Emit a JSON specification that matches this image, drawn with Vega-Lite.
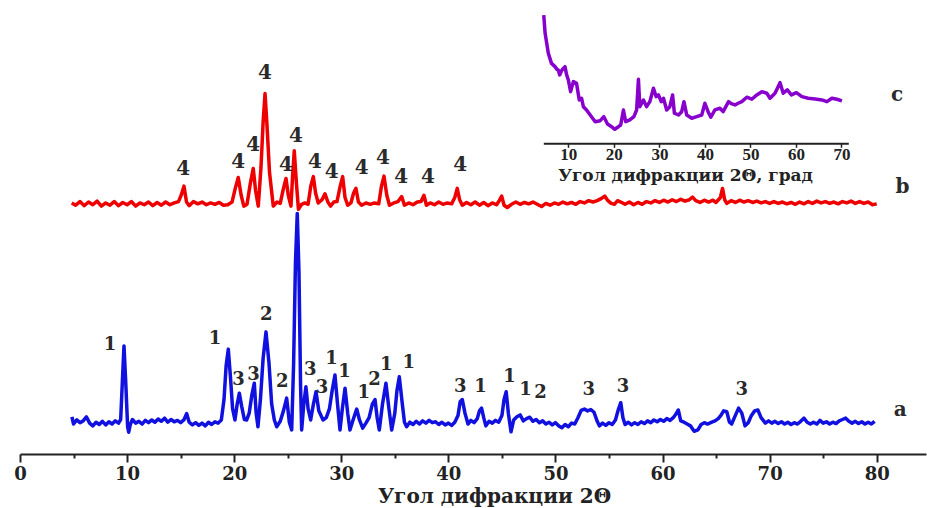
{
  "$schema": "https://vega.github.io/schema/vega-lite/v6.json",
  "width": 906,
  "height": 454,
  "autosize": "none",
  "padding": {"left": 20, "top": 0, "right": 1, "bottom": 54},
  "background": "white",
  "config": {"view": {"stroke": null}},
  "datasets": {
    "a": [
      {"x":4.85,"y":8.2},{"x":5.0,"y":6.6},{"x":5.3,"y":7.5},{"x":5.6,"y":6.9},{"x":5.9,"y":7.3},{"x":6.2,"y":8.2},{"x":6.5,"y":6.8},{"x":6.8,"y":6.2},{"x":7.1,"y":7.0},{"x":7.4,"y":6.5},{"x":7.7,"y":7.2},{"x":8.0,"y":6.4},{"x":8.3,"y":7.1},{"x":8.6,"y":6.6},{"x":8.9,"y":7.3},{"x":9.2,"y":6.8},{"x":9.4,"y":7.6},{"x":9.55,"y":15.5},{"x":9.71,"y":23.8},{"x":9.87,"y":16.0},{"x":10.05,"y":6.0},{"x":10.15,"y":4.8},{"x":10.3,"y":6.5},{"x":10.5,"y":7.6},{"x":10.8,"y":6.8},{"x":11.1,"y":7.2},{"x":11.4,"y":6.6},{"x":11.7,"y":7.4},{"x":12.0,"y":6.9},{"x":12.3,"y":7.5},{"x":12.6,"y":7.0},{"x":12.9,"y":7.7},{"x":13.2,"y":7.2},{"x":13.5,"y":7.9},{"x":13.8,"y":7.0},{"x":14.1,"y":7.6},{"x":14.4,"y":7.1},{"x":14.7,"y":7.4},{"x":15.0,"y":6.9},{"x":15.3,"y":7.5},{"x":15.56,"y":8.9},{"x":15.8,"y":7.0},{"x":16.1,"y":6.4},{"x":16.4,"y":6.9},{"x":16.7,"y":6.3},{"x":17.0,"y":6.8},{"x":17.3,"y":6.2},{"x":17.6,"y":7.0},{"x":17.9,"y":6.5},{"x":18.2,"y":7.1},{"x":18.5,"y":6.8},{"x":18.8,"y":7.5},{"x":19.05,"y":12},{"x":19.25,"y":19.5},{"x":19.45,"y":23.1},{"x":19.65,"y":17},{"x":19.85,"y":10},{"x":20.07,"y":7.5},{"x":20.28,"y":11},{"x":20.48,"y":13.4},{"x":20.7,"y":10.5},{"x":20.95,"y":7.6},{"x":21.17,"y":7.5},{"x":21.4,"y":9},{"x":21.65,"y":13},{"x":21.88,"y":15.6},{"x":22.05,"y":9},{"x":22.22,"y":6.0},{"x":22.45,"y":12},{"x":22.7,"y":21},{"x":22.97,"y":26.9},{"x":23.25,"y":20},{"x":23.5,"y":11},{"x":23.75,"y":7.5},{"x":23.97,"y":6.0},{"x":24.3,"y":7.2},{"x":24.6,"y":9.5},{"x":24.9,"y":12.3},{"x":25.15,"y":7},{"x":25.37,"y":5.3},{"x":25.55,"y":20},{"x":25.72,"y":42},{"x":25.89,"y":53.0},{"x":26.05,"y":40},{"x":26.2,"y":15},{"x":26.3,"y":5.3},{"x":26.5,"y":11},{"x":26.7,"y":14.8},{"x":26.9,"y":10},{"x":27.14,"y":7.5},{"x":27.4,"y":11},{"x":27.64,"y":13.7},{"x":27.9,"y":9.5},{"x":28.3,"y":7.5},{"x":28.6,"y":8},{"x":28.9,"y":10},{"x":29.15,"y":14},{"x":29.41,"y":17.4},{"x":29.65,"y":11},{"x":29.88,"y":5.3},{"x":30.1,"y":10},{"x":30.35,"y":14.5},{"x":30.6,"y":9},{"x":30.81,"y":5.3},{"x":31.1,"y":7.5},{"x":31.44,"y":9.9},{"x":31.7,"y":7.5},{"x":32.0,"y":5.7},{"x":32.3,"y":6.8},{"x":32.6,"y":8},{"x":32.9,"y":11},{"x":33.15,"y":12.0},{"x":33.35,"y":8},{"x":33.55,"y":5.3},{"x":33.85,"y":11},{"x":34.17,"y":15.6},{"x":34.45,"y":10},{"x":34.71,"y":5.3},{"x":35.0,"y":9},{"x":35.2,"y":14},{"x":35.42,"y":17.0},{"x":35.7,"y":11},{"x":35.9,"y":7},{"x":36.1,"y":6.0},{"x":36.4,"y":7.0},{"x":36.7,"y":6.5},{"x":37.0,"y":7.2},{"x":37.3,"y":6.6},{"x":37.6,"y":7.3},{"x":37.9,"y":6.8},{"x":38.2,"y":7.4},{"x":38.5,"y":6.9},{"x":38.8,"y":7.1},{"x":39.1,"y":6.5},{"x":39.4,"y":7.0},{"x":39.7,"y":6.4},{"x":40.0,"y":6.8},{"x":40.3,"y":6.3},{"x":40.6,"y":7.0},{"x":40.9,"y":8.5},{"x":41.1,"y":11.5},{"x":41.3,"y":12.0},{"x":41.55,"y":9},{"x":41.83,"y":6.6},{"x":42.1,"y":7.4},{"x":42.4,"y":6.9},{"x":42.7,"y":7.8},{"x":42.9,"y":9.5},{"x":43.1,"y":10.1},{"x":43.3,"y":8},{"x":43.5,"y":6.2},{"x":43.8,"y":7.2},{"x":44.1,"y":6.8},{"x":44.4,"y":7.4},{"x":44.7,"y":7.0},{"x":45.0,"y":8.5},{"x":45.2,"y":12},{"x":45.4,"y":13.7},{"x":45.6,"y":9},{"x":45.85,"y":4.9},{"x":46.1,"y":7.5},{"x":46.4,"y":8.2},{"x":46.7,"y":8.6},{"x":47.0,"y":7.3},{"x":47.3,"y":7.8},{"x":47.6,"y":8.1},{"x":47.9,"y":7.2},{"x":48.2,"y":7.6},{"x":48.5,"y":6.9},{"x":48.8,"y":7.3},{"x":49.1,"y":6.6},{"x":49.4,"y":7.0},{"x":49.7,"y":6.4},{"x":50.0,"y":6.9},{"x":50.3,"y":6.2},{"x":50.6,"y":5.8},{"x":50.9,"y":6.5},{"x":51.2,"y":6.0},{"x":51.5,"y":6.8},{"x":51.8,"y":6.6},{"x":52.1,"y":8.0},{"x":52.4,"y":9.6},{"x":52.7,"y":9.9},{"x":53.0,"y":9.5},{"x":53.3,"y":9.8},{"x":53.6,"y":9.2},{"x":53.9,"y":7.2},{"x":54.1,"y":6.2},{"x":54.4,"y":6.8},{"x":54.7,"y":6.3},{"x":55.0,"y":6.9},{"x":55.3,"y":6.5},{"x":55.6,"y":7.5},{"x":55.9,"y":10},{"x":56.1,"y":11.3},{"x":56.3,"y":8},{"x":56.5,"y":6.5},{"x":56.8,"y":7.0},{"x":57.1,"y":6.4},{"x":57.4,"y":6.9},{"x":57.7,"y":6.5},{"x":58.0,"y":7.1},{"x":58.3,"y":6.7},{"x":58.6,"y":7.3},{"x":58.9,"y":6.9},{"x":59.2,"y":7.5},{"x":59.5,"y":7.1},{"x":59.8,"y":7.6},{"x":60.1,"y":7.2},{"x":60.4,"y":7.8},{"x":60.7,"y":7.4},{"x":61.0,"y":8.0},{"x":61.25,"y":8.8},{"x":61.47,"y":9.7},{"x":61.7,"y":7.3},{"x":62.0,"y":7.0},{"x":62.3,"y":6.6},{"x":62.6,"y":6.2},{"x":62.95,"y":5.0},{"x":63.3,"y":5.3},{"x":63.6,"y":6.5},{"x":63.9,"y":6.9},{"x":64.2,"y":6.6},{"x":64.6,"y":7.0},{"x":64.9,"y":7.3},{"x":65.2,"y":7.8},{"x":65.45,"y":8.5},{"x":65.7,"y":9.5},{"x":66.0,"y":9.3},{"x":66.25,"y":7.0},{"x":66.45,"y":6.6},{"x":66.8,"y":8.5},{"x":67.1,"y":10.1},{"x":67.4,"y":9.0},{"x":67.7,"y":6.2},{"x":68.0,"y":6.9},{"x":68.3,"y":8.5},{"x":68.6,"y":9.5},{"x":68.9,"y":9.7},{"x":69.2,"y":8.0},{"x":69.6,"y":6.8},{"x":69.9,"y":7.3},{"x":70.2,"y":6.8},{"x":70.5,"y":7.2},{"x":70.8,"y":6.7},{"x":71.1,"y":7.1},{"x":71.4,"y":6.6},{"x":71.7,"y":7.0},{"x":72.0,"y":6.5},{"x":72.3,"y":6.9},{"x":72.6,"y":6.6},{"x":72.9,"y":7.2},{"x":73.2,"y":7.9},{"x":73.5,"y":7.0},{"x":73.8,"y":6.6},{"x":74.1,"y":7.0},{"x":74.4,"y":6.6},{"x":74.7,"y":7.4},{"x":75.0,"y":6.8},{"x":75.3,"y":7.1},{"x":75.6,"y":6.6},{"x":75.9,"y":7.0},{"x":76.2,"y":6.7},{"x":76.5,"y":7.3},{"x":76.8,"y":7.6},{"x":77.1,"y":7.9},{"x":77.4,"y":7.2},{"x":77.7,"y":6.8},{"x":78.0,"y":7.2},{"x":78.3,"y":6.7},{"x":78.6,"y":7.1},{"x":78.9,"y":6.6},{"x":79.2,"y":7.0},{"x":79.5,"y":6.6},{"x":79.8,"y":7.2}
    ],
    "b": [
      {"x":4.83,"y":55.3},{"x":5.2,"y":54.8},{"x":5.6,"y":55.6},{"x":6.0,"y":54.7},{"x":6.4,"y":55.5},{"x":6.8,"y":54.9},{"x":7.2,"y":55.7},{"x":7.6,"y":54.6},{"x":8.0,"y":55.3},{"x":8.4,"y":54.8},{"x":8.8,"y":55.6},{"x":9.2,"y":54.7},{"x":9.6,"y":55.4},{"x":10.0,"y":54.9},{"x":10.4,"y":55.6},{"x":10.8,"y":54.6},{"x":11.2,"y":55.3},{"x":11.6,"y":54.9},{"x":12.0,"y":55.5},{"x":12.4,"y":54.7},{"x":12.8,"y":55.4},{"x":13.2,"y":54.8},{"x":13.6,"y":55.5},{"x":14.0,"y":54.9},{"x":14.4,"y":55.3},{"x":14.8,"y":55.6},{"x":15.05,"y":57.0},{"x":15.31,"y":59.0},{"x":15.55,"y":55.5},{"x":15.8,"y":54.7},{"x":16.2,"y":55.6},{"x":16.6,"y":55.1},{"x":17.0,"y":55.5},{"x":17.4,"y":54.9},{"x":17.8,"y":55.3},{"x":18.2,"y":55.0},{"x":18.6,"y":55.4},{"x":19.0,"y":54.8},{"x":19.4,"y":54.9},{"x":19.8,"y":55.5},{"x":20.1,"y":58.5},{"x":20.38,"y":60.9},{"x":20.65,"y":57},{"x":20.9,"y":54.6},{"x":21.2,"y":55.0},{"x":21.5,"y":59.5},{"x":21.78,"y":62.9},{"x":22.0,"y":58},{"x":22.25,"y":54.6},{"x":22.5,"y":63},{"x":22.7,"y":73},{"x":22.88,"y":79.4},{"x":23.05,"y":73},{"x":23.3,"y":62},{"x":23.65,"y":54.6},{"x":24.0,"y":55.5},{"x":24.3,"y":55.2},{"x":24.6,"y":58.5},{"x":24.84,"y":60.7},{"x":25.05,"y":57},{"x":25.3,"y":54.6},{"x":25.45,"y":61},{"x":25.61,"y":66.8},{"x":25.8,"y":60},{"x":26.0,"y":53.9},{"x":26.3,"y":55.0},{"x":26.6,"y":55.3},{"x":26.9,"y":55.0},{"x":27.15,"y":59},{"x":27.39,"y":61.1},{"x":27.6,"y":57.5},{"x":27.85,"y":55.3},{"x":28.2,"y":56.0},{"x":28.48,"y":57.3},{"x":28.75,"y":55.5},{"x":29.0,"y":54.6},{"x":29.3,"y":55.5},{"x":29.6,"y":55.6},{"x":29.9,"y":59},{"x":30.13,"y":61.1},{"x":30.35,"y":56.5},{"x":30.6,"y":54.8},{"x":30.9,"y":55.3},{"x":31.15,"y":57.5},{"x":31.37,"y":58.5},{"x":31.6,"y":55.5},{"x":31.9,"y":54.8},{"x":32.3,"y":55.3},{"x":32.7,"y":55.0},{"x":33.1,"y":55.3},{"x":33.5,"y":55.1},{"x":33.75,"y":59},{"x":33.99,"y":61.2},{"x":34.25,"y":57},{"x":34.5,"y":54.8},{"x":34.9,"y":55.3},{"x":35.3,"y":55.6},{"x":35.64,"y":56.7},{"x":35.9,"y":54.8},{"x":36.3,"y":55.3},{"x":36.7,"y":54.9},{"x":37.1,"y":55.5},{"x":37.45,"y":55.6},{"x":37.72,"y":57.0},{"x":37.95,"y":54.8},{"x":38.3,"y":55.3},{"x":38.7,"y":54.9},{"x":39.1,"y":55.5},{"x":39.5,"y":55.0},{"x":39.9,"y":55.3},{"x":40.3,"y":55.1},{"x":40.6,"y":56.5},{"x":40.83,"y":58.5},{"x":41.05,"y":56.0},{"x":41.3,"y":54.8},{"x":41.7,"y":55.4},{"x":42.1,"y":54.9},{"x":42.5,"y":55.5},{"x":42.9,"y":54.8},{"x":43.3,"y":55.4},{"x":43.7,"y":54.7},{"x":44.1,"y":55.3},{"x":44.5,"y":54.9},{"x":44.75,"y":55.8},{"x":44.98,"y":56.8},{"x":45.2,"y":54.8},{"x":45.5,"y":54.3},{"x":45.9,"y":55.0},{"x":46.3,"y":55.5},{"x":46.7,"y":55.0},{"x":47.1,"y":55.4},{"x":47.5,"y":55.1},{"x":47.9,"y":55.5},{"x":48.3,"y":55.0},{"x":48.7,"y":54.5},{"x":49.1,"y":55.2},{"x":49.5,"y":54.8},{"x":49.9,"y":55.3},{"x":50.3,"y":55.0},{"x":50.7,"y":55.5},{"x":51.1,"y":55.1},{"x":51.5,"y":55.4},{"x":51.9,"y":55.0},{"x":52.3,"y":55.6},{"x":52.7,"y":55.3},{"x":53.1,"y":55.8},{"x":53.5,"y":55.5},{"x":53.9,"y":55.8},{"x":54.3,"y":56.3},{"x":54.6,"y":56.8},{"x":54.9,"y":55.8},{"x":55.2,"y":55.2},{"x":55.5,"y":55.0},{"x":55.8,"y":55.8},{"x":56.1,"y":55.5},{"x":56.5,"y":55.0},{"x":56.9,"y":55.5},{"x":57.3,"y":54.9},{"x":57.7,"y":55.4},{"x":58.1,"y":55.0},{"x":58.5,"y":55.6},{"x":58.9,"y":55.3},{"x":59.3,"y":55.8},{"x":59.7,"y":55.4},{"x":60.1,"y":55.9},{"x":60.5,"y":55.5},{"x":60.9,"y":56.0},{"x":61.3,"y":55.6},{"x":61.7,"y":56.1},{"x":62.1,"y":55.7},{"x":62.5,"y":56.0},{"x":62.8,"y":56.6},{"x":63.1,"y":55.8},{"x":63.5,"y":55.4},{"x":63.9,"y":55.9},{"x":64.3,"y":55.5},{"x":64.7,"y":55.9},{"x":65.0,"y":55.4},{"x":65.4,"y":56.5},{"x":65.6,"y":58.5},{"x":65.8,"y":56},{"x":66.0,"y":55.2},{"x":66.4,"y":55.8},{"x":66.8,"y":55.4},{"x":67.2,"y":55.9},{"x":67.6,"y":55.5},{"x":68.0,"y":55.8},{"x":68.4,"y":55.4},{"x":68.8,"y":55.7},{"x":69.2,"y":55.3},{"x":69.6,"y":55.6},{"x":70.0,"y":55.2},{"x":70.4,"y":55.6},{"x":70.8,"y":55.2},{"x":71.2,"y":55.5},{"x":71.6,"y":55.1},{"x":72.0,"y":55.4},{"x":72.4,"y":55.0},{"x":72.8,"y":55.5},{"x":73.2,"y":55.1},{"x":73.6,"y":55.6},{"x":74.0,"y":55.2},{"x":74.4,"y":55.7},{"x":74.8,"y":55.3},{"x":75.2,"y":55.6},{"x":75.6,"y":55.2},{"x":76.0,"y":55.5},{"x":76.4,"y":55.1},{"x":76.8,"y":55.6},{"x":77.2,"y":55.3},{"x":77.6,"y":55.7},{"x":78.0,"y":55.2},{"x":78.4,"y":55.6},{"x":78.8,"y":55.2},{"x":79.2,"y":55.5},{"x":79.6,"y":54.9},{"x":80.0,"y":55.1}
    ],
    "c": [
      {"x":4.6,"y":89.5},{"x":4.9,"y":76.7},{"x":5.6,"y":62.7},{"x":6.3,"y":55.7},{"x":7.07,"y":53.4},{"x":7.5,"y":51.5},{"x":7.8,"y":51.0},{"x":8.1,"y":47.6},{"x":8.5,"y":50.5},{"x":8.9,"y":52.2},{"x":9.27,"y":53.4},{"x":9.6,"y":48},{"x":10.0,"y":44.1},{"x":10.5,"y":35.9},{"x":11.1,"y":42.9},{"x":11.8,"y":41.7},{"x":12.4,"y":30.1},{"x":12.9,"y":31.3},{"x":13.3,"y":25.4},{"x":14.0,"y":23.1},{"x":14.8,"y":19.6},{"x":15.9,"y":14.9},{"x":17.0,"y":15.6},{"x":17.8,"y":18.4},{"x":18.6,"y":13.3},{"x":19.5,"y":11.4},{"x":20.2,"y":9.6},{"x":21.0,"y":11.4},{"x":21.5,"y":12.6},{"x":22.1,"y":23.1},{"x":22.6,"y":14.9},{"x":23.5,"y":16.1},{"x":24.4,"y":18.4},{"x":25.0,"y":23.1},{"x":25.4,"y":44.5},{"x":25.7,"y":25.4},{"x":26.5,"y":30.1},{"x":27.2,"y":25.4},{"x":27.9,"y":28.9},{"x":28.7,"y":38.3},{"x":29.3,"y":32.4},{"x":29.8,"y":33.6},{"x":30.4,"y":28.9},{"x":30.9,"y":31.3},{"x":31.6,"y":23.1},{"x":32.3,"y":25.4},{"x":32.9,"y":33.6},{"x":33.3,"y":20.8},{"x":34.2,"y":19.6},{"x":34.9,"y":21.9},{"x":35.4,"y":28.9},{"x":36.0,"y":19.6},{"x":37.1,"y":17.3},{"x":38.2,"y":18.4},{"x":39.3,"y":19.6},{"x":40.0,"y":27.8},{"x":40.7,"y":21.9},{"x":41.3,"y":18.0},{"x":42.2,"y":23.1},{"x":43.3,"y":24.3},{"x":44.0,"y":21.9},{"x":45.2,"y":28.9},{"x":45.8,"y":27.5},{"x":46.6,"y":26.6},{"x":47.3,"y":27.8},{"x":48.1,"y":28.9},{"x":49.2,"y":32.0},{"x":50.3,"y":30.6},{"x":51.4,"y":33.6},{"x":52.5,"y":35.9},{"x":53.6,"y":34.8},{"x":54.3,"y":31.3},{"x":55.4,"y":34.8},{"x":56.5,"y":42.2},{"x":57.2,"y":34.8},{"x":58.1,"y":37.1},{"x":59.0,"y":33.6},{"x":60.1,"y":35.2},{"x":61.3,"y":32.4},{"x":62.7,"y":31.3},{"x":64.2,"y":30.8},{"x":65.7,"y":30.1},{"x":66.8,"y":28.9},{"x":67.9,"y":31.3},{"x":69.0,"y":30.6},{"x":70.1,"y":29.4}
    ],
    "labelsA": [
      {"x":8.4,"y":24.0,"t":"1"},{"x":18.2,"y":25.3,"t":"1"},{"x":20.4,"y":16.3,"t":"3"},{"x":21.8,"y":17.4,"t":"3"},{"x":23.0,"y":30.6,"t":"2"},{"x":24.5,"y":15.9,"t":"2"},{"x":27.1,"y":18.5,"t":"3"},{"x":28.2,"y":14.5,"t":"3"},{"x":29.1,"y":20.9,"t":"1"},{"x":30.3,"y":18.1,"t":"1"},{"x":32.1,"y":13.4,"t":"1"},{"x":33.1,"y":16.3,"t":"2"},{"x":34.2,"y":19.6,"t":"1"},{"x":36.3,"y":20.1,"t":"1"},{"x":41.1,"y":14.8,"t":"3"},{"x":43.0,"y":14.8,"t":"1"},{"x":45.7,"y":17.0,"t":"1"},{"x":47.2,"y":14.1,"t":"1"},{"x":48.6,"y":13.4,"t":"2"},{"x":53.1,"y":14.1,"t":"3"},{"x":56.3,"y":14.8,"t":"3"},{"x":67.4,"y":14.1,"t":"3"}
    ],
    "labelsB": [
      {"x":15.25,"y":62.7,"t":"4"},{"x":20.38,"y":64.4,"t":"4"},{"x":21.78,"y":68.1,"t":"4"},{"x":22.88,"y":84.0,"t":"4"},{"x":24.84,"y":63.7,"t":"4"},{"x":25.77,"y":70.0,"t":"4"},{"x":27.54,"y":64.4,"t":"4"},{"x":29.1,"y":62.2,"t":"4"},{"x":31.9,"y":62.9,"t":"4"},{"x":33.9,"y":65.1,"t":"4"},{"x":35.6,"y":61.1,"t":"4"},{"x":38.1,"y":61.1,"t":"4"},{"x":41.1,"y":63.7,"t":"4"}
    ],
    "curveNames": [
      {"x":82.2,"y":9.7,"t":"a"},{"x":82.4,"y":58.8,"t":"b"},{"x":81.9,"y":79.1,"t":"c"}
    ]
  },
  "layer": [
    {
      "layer": [
        {
          "data": {"name": "a"},
          "mark": {"type": "line", "color": "#1010e0", "strokeWidth": 3.5, "strokeJoin": "round"},
          "encoding": {
            "x": {"field": "x", "type": "quantitative",
              "scale": {"domain": [0, 84.6], "nice": false, "zero": false},
              "axis": {
                "orient": "bottom",
                "values": [0,10,20,30,40,50,60,70,80],
                "title": "Угол дифракции 2Θ",
                "grid": false,
                "domainColor": "#222", "domainWidth": 2,
                "tickColor": "#222", "tickWidth": 2, "tickSize": 8,
                "labelFont": "DejaVu Serif", "labelFontWeight": "bold", "labelFontSize": 18, "labelColor": "#222",
                "labelBaseline": "middle", "labelPadding": 12, "labelFlush": false, "labelOverlap": false,
                "titleFont": "DejaVu Serif", "titleFontWeight": "bold", "titleFontSize": 20, "titleColor": "#222",
                "titleX": 474, "titleY": 42, "titleBaseline": "middle", "titleAlign": "center"
              }},
            "y": {"field": "y", "type": "quantitative", "scale": {"domain": [0, 100], "nice": false, "zero": false}, "axis": null}
          }
        },
        {
          "data": {"name": "b"},
          "mark": {"type": "line", "color": "#ee0000", "strokeWidth": 3.5, "strokeJoin": "round"},
          "encoding": {
            "x": {"field": "x", "type": "quantitative", "scale": {"domain": [0, 84.6], "nice": false, "zero": false},
              "axis": {
                "orient": "bottom",
                "values": [5,15,25,35,45,55,65,75],
                "title": null, "labels": false, "domain": false, "grid": false,
                "tickColor": "#222", "tickWidth": 2, "tickSize": 4
              }},
            "y": {"field": "y", "type": "quantitative", "scale": {"domain": [0, 100], "nice": false, "zero": false}, "axis": null}
          }
        },
        {
          "data": {"name": "labelsA"},
          "mark": {"type": "text", "font": "DejaVu Serif", "fontWeight": "bold", "fontSize": 18, "color": "#2a2a2a", "baseline": "middle", "align": "center"},
          "encoding": {
            "x": {"field": "x", "type": "quantitative", "scale": {"domain": [0, 84.6], "nice": false, "zero": false}, "axis": null},
            "y": {"field": "y", "type": "quantitative", "scale": {"domain": [0, 100], "nice": false, "zero": false}, "axis": null},
            "text": {"field": "t"}
          }
        },
        {
          "data": {"name": "labelsB"},
          "mark": {"type": "text", "font": "DejaVu Serif", "fontWeight": "bold", "fontSize": 20, "color": "#2a2a2a", "baseline": "middle", "align": "center"},
          "encoding": {
            "x": {"field": "x", "type": "quantitative", "scale": {"domain": [0, 84.6], "nice": false, "zero": false}, "axis": null},
            "y": {"field": "y", "type": "quantitative", "scale": {"domain": [0, 100], "nice": false, "zero": false}, "axis": null},
            "text": {"field": "t"}
          }
        },
        {
          "data": {"name": "curveNames"},
          "mark": {"type": "text", "font": "DejaVu Serif", "fontWeight": "bold", "fontSize": 20, "color": "#2a2a2a", "baseline": "middle", "align": "center"},
          "encoding": {
            "x": {"field": "x", "type": "quantitative", "scale": {"domain": [0, 84.6], "nice": false, "zero": false}, "axis": null},
            "y": {"field": "y", "type": "quantitative", "scale": {"domain": [0, 100], "nice": false, "zero": false}, "axis": null},
            "text": {"field": "t"}
          }
        }
      ],
      "resolve": {"axis": {"x": "independent"}}
    },
    {
      "data": {"name": "c"},
      "mark": {"type": "line", "color": "#8800cc", "strokeWidth": 3.5, "strokeJoin": "round"},
      "encoding": {
        "x": {"field": "x", "type": "quantitative",
          "scale": {"domain": [4.5, 71.5], "range": [523.3, 828.3], "nice": false, "zero": false},
          "axis": {
            "orient": "bottom", "offset": -310.7,
            "values": [10,20,30,40,50,60,70],
            "title": "Угол дифракции 2Θ, град",
            "grid": false,
            "domainColor": "#222", "domainWidth": 2,
            "tickColor": "#222", "tickWidth": 1.5, "tickSize": 4,
            "labelFont": "Liberation Serif", "labelFontWeight": "bold", "labelFontSize": 17, "labelColor": "#222",
            "labelBaseline": "middle", "labelPadding": 7, "labelFlush": false, "labelOverlap": false,
            "titleFont": "DejaVu Serif", "titleFontWeight": "bold", "titleFontSize": 17, "titleColor": "#222",
            "titleX": 665, "titleY": 32, "titleBaseline": "middle", "titleAlign": "center"
          }},
        "y": {"field": "y", "type": "quantitative",
          "scale": {"domain": [0, 100], "range": [143, 0], "nice": false, "zero": false},
          "axis": null}
      }
    }
  ],
  "resolve": {"scale": {"x": "independent", "y": "independent"}, "axis": {"x": "independent", "y": "independent"}}
}
